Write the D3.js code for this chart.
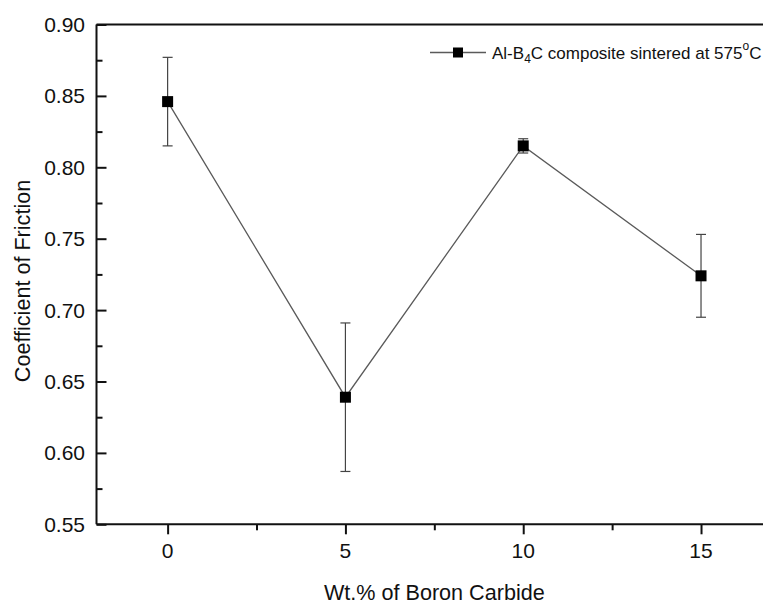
<!DOCTYPE html>
<html>
<head>
<meta charset="utf-8">
<script src="https://cdn.jsdelivr.net/npm/d3@7"></script>
<style>
  html, body { margin: 0; padding: 0; background: #fff; overflow: hidden; }
  svg { display: block; font-family: "Liberation Sans", Arial, sans-serif; }
</style>
</head>
<body>
<svg id="chart" width="763" height="604"></svg>
<script>
// Coefficient of friction vs. boron carbide content
const wtPercent = [0, 5, 10, 15];
const friction  = [0.846, 0.639, 0.815, 0.724];
const errors    = [0.031, 0.052, 0.005, 0.029];

const xMajorTicks = [0, 5, 10, 15];
const xMinorTicks = [2.5, 7.5, 12.5];
const yMajorTicks = [0.55, 0.60, 0.65, 0.70, 0.75, 0.80, 0.85, 0.90];
const yMinorTicks = [0.575, 0.625, 0.675, 0.725, 0.775, 0.825, 0.875];

const svg = d3.select("#chart");

const plotLeft = 96.5, plotTop = 24.5, plotBottom = 524.3;
const x = d3.scaleLinear().domain([-2, 17]).range([plotLeft, plotLeft + 19 * 35.56]);
const y = d3.scaleLinear().domain([0.55, 0.90]).range([plotBottom, plotTop]);
const plotRight = x.range()[1];

// Axes: y ticks point inward, x ticks point outward
const yAxis = svg.append("g").attr("transform", `translate(${plotLeft},0)`)
  .call(d3.axisRight(y).tickValues(yMajorTicks).tickSize(10).tickFormat(""));
svg.append("g").attr("transform", `translate(${plotLeft},0)`)
  .call(d3.axisRight(y).tickValues(yMinorTicks).tickSize(6).tickFormat(""))
  .select(".domain").remove();

const xAxis = svg.append("g").attr("transform", `translate(0,${plotBottom})`)
  .call(d3.axisBottom(x).tickValues(xMajorTicks).tickSize(10).tickFormat(""));
svg.append("g").attr("transform", `translate(0,${plotBottom})`)
  .call(d3.axisBottom(x).tickValues(xMinorTicks).tickSize(6).tickFormat(""))
  .select(".domain").remove();

svg.selectAll(".domain, .tick line").attr("stroke", "#111").attr("stroke-width", 2);
yAxis.select(".domain").attr("d", `M0,${plotTop}V${plotBottom}`);
xAxis.select(".domain").attr("d", `M${plotLeft},0H${plotRight}`);

// Top frame line
svg.append("line")
  .attr("x1", plotLeft).attr("x2", plotRight)
  .attr("y1", plotTop).attr("y2", plotTop)
  .attr("stroke", "#111").attr("stroke-width", 2);

// Tick labels
svg.append("g").selectAll("text").data(yMajorTicks).join("text")
  .attr("x", 85).attr("y", d => y(d))
  .attr("dy", "0.36em")
  .attr("text-anchor", "end")
  .attr("font-size", 21)
  .attr("fill", "#111")
  .text(d => d.toFixed(2));

svg.append("g").selectAll("text").data(xMajorTicks).join("text")
  .attr("x", d => x(d)).attr("y", 558)
  .attr("text-anchor", "middle")
  .attr("font-size", 21)
  .attr("fill", "#111")
  .text(d => d);

// Axis titles
svg.append("text")
  .attr("x", (plotLeft + plotRight) / 2).attr("y", 600)
  .attr("text-anchor", "middle")
  .attr("font-size", 21.6)
  .attr("fill", "#111")
  .text("Wt.% of Boron Carbide");

svg.append("text")
  .attr("transform", "translate(30,281) rotate(-90)")
  .attr("text-anchor", "middle")
  .attr("font-size", 21.6)
  .attr("fill", "#111")
  .text("Coefficient of Friction");

// Series line
const pts = wtPercent.map((d, i) => ({ x: d, y: friction[i], e: errors[i] }));
svg.append("path")
  .datum(pts)
  .attr("fill", "none")
  .attr("stroke", "#5a5a5a")
  .attr("stroke-width", 1.3)
  .attr("d", d3.line().x(d => x(d.x)).y(d => y(d.y)));

// Error bars
const eb = svg.append("g").attr("stroke", "#444").attr("stroke-width", 1.2);
eb.selectAll("line.v").data(pts).join("line").attr("class", "v")
  .attr("x1", d => x(d.x)).attr("x2", d => x(d.x))
  .attr("y1", d => y(d.y + d.e)).attr("y2", d => y(d.y - d.e));
eb.selectAll("line.t").data(pts).join("line").attr("class", "t")
  .attr("x1", d => x(d.x) - 5).attr("x2", d => x(d.x) + 5)
  .attr("y1", d => y(d.y + d.e)).attr("y2", d => y(d.y + d.e));
eb.selectAll("line.b").data(pts).join("line").attr("class", "b")
  .attr("x1", d => x(d.x) - 5).attr("x2", d => x(d.x) + 5)
  .attr("y1", d => y(d.y - d.e)).attr("y2", d => y(d.y - d.e));

// Square markers
svg.append("g").selectAll("rect").data(pts).join("rect")
  .attr("x", d => x(d.x) - 5.5).attr("y", d => y(d.y) - 5.5)
  .attr("width", 11).attr("height", 11)
  .attr("fill", "#000");

// Legend
const lg = svg.append("g");
lg.append("line").attr("x1", 430).attr("x2", 486).attr("y1", 52.5).attr("y2", 52.5)
  .attr("stroke", "#5a5a5a").attr("stroke-width", 1.3);
lg.append("rect").attr("x", 453).attr("y", 47.5).attr("width", 10).attr("height", 10).attr("fill", "#000");
const lt = lg.append("text").attr("x", 492).attr("y", 58.5).attr("font-size", 17).attr("fill", "#111");
lt.append("tspan").text("Al-B");
lt.append("tspan").attr("font-size", 12).attr("dy", 4).text("4");
lt.append("tspan").attr("dy", -4).text("C composite sintered at 575");
lt.append("tspan").attr("font-size", 12).attr("dy", -9).text("o");
lt.append("tspan").attr("dy", 9).text("C");
</script>
</body>
</html>
